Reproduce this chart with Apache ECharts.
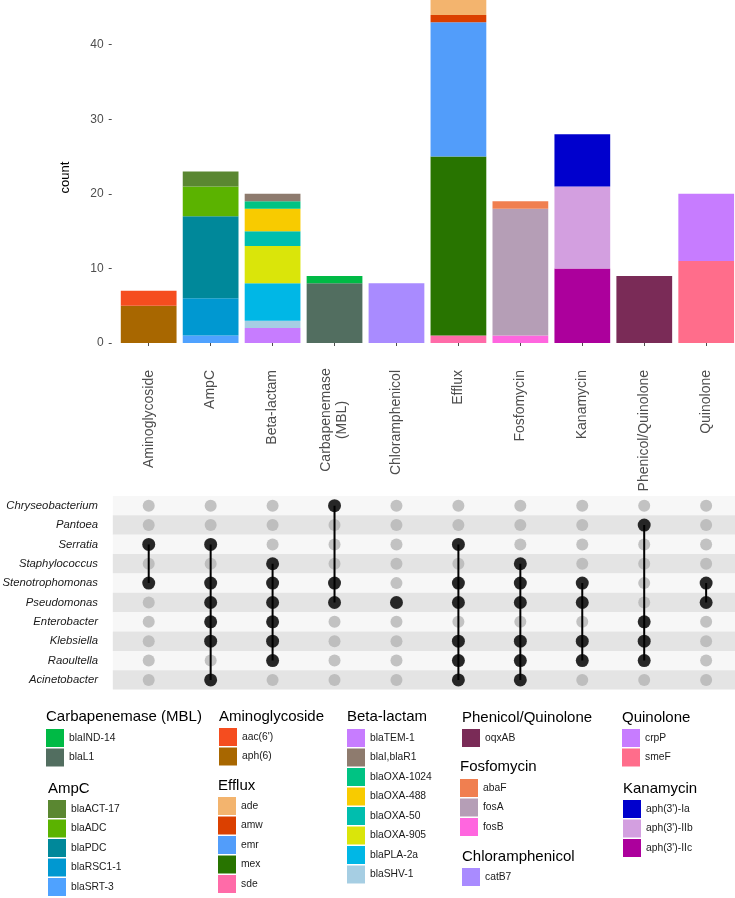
<!DOCTYPE html>
<html>
<head>
<meta charset="utf-8">
<script src="https://cdn.jsdelivr.net/npm/echarts@6/dist/echarts.min.js"></script>
<style>
  html, body { margin: 0; padding: 0; background: #fff; }
  #main { width: 735px; height: 898px; }
</style>
</head>
<body>
<div id="main"></div>
<script>
// resistance classes (x axis, shared by bars and matrix)
var classes = ['Aminoglycoside', 'AmpC', 'Beta-lactam', 'Carbapenemase (MBL)', 'Chloramphenicol',
    'Efflux', 'Fosfomycin', 'Kanamycin', 'Phenicol/Quinolone', 'Quinolone'];

// genes, listed bottom-to-top inside each class
var genes = ["aph(6)", "aac(6')",
    'blaSRT-3', 'blaRSC1-1', 'blaPDC', 'blaADC', 'blaACT-17',
    'blaTEM-1', 'blaSHV-1', 'blaPLA-2a', 'blaOXA-905', 'blaOXA-50', 'blaOXA-488', 'blaOXA-1024', 'blaI,blaR1',
    'blaL1', 'blaIND-14',
    'catB7',
    'sde', 'mex', 'emr', 'amw', 'ade',
    'fosB', 'fosA', 'abaF',
    "aph(3')-IIc", "aph(3')-IIb", "aph(3')-Ia",
    'oqxAB',
    'smeF', 'crpP'];
var geneClass = [0, 0,
    1, 1, 1, 1, 1,
    2, 2, 2, 2, 2, 2, 2, 2,
    3, 3,
    4,
    5, 5, 5, 5, 5,
    6, 6, 6,
    7, 7, 7,
    8,
    9, 9];
var geneCount = [5, 2,
    1, 5, 11, 4, 2,
    2, 1, 5, 5, 2, 3, 1, 1,
    8, 1,
    8,
    1, 24, 18, 1, 2,
    1, 17, 1,
    10, 11, 7,
    9,
    11, 9];

// matrix rows and which genera carry each class
var bacteria = ['Chryseobacterium', 'Pantoea', 'Serratia', 'Staphylococcus', 'Stenotrophomonas',
    'Pseudomonas', 'Enterobacter', 'Klebsiella', 'Raoultella', 'Acinetobacter'];
var members = [
    ['Serratia', 'Stenotrophomonas'],
    ['Serratia', 'Stenotrophomonas', 'Pseudomonas', 'Enterobacter', 'Klebsiella', 'Acinetobacter'],
    ['Staphylococcus', 'Stenotrophomonas', 'Pseudomonas', 'Enterobacter', 'Klebsiella', 'Raoultella'],
    ['Chryseobacterium', 'Stenotrophomonas', 'Pseudomonas'],
    ['Pseudomonas'],
    ['Serratia', 'Stenotrophomonas', 'Pseudomonas', 'Klebsiella', 'Raoultella', 'Acinetobacter'],
    ['Staphylococcus', 'Stenotrophomonas', 'Pseudomonas', 'Klebsiella', 'Raoultella', 'Acinetobacter'],
    ['Stenotrophomonas', 'Pseudomonas', 'Klebsiella', 'Raoultella'],
    ['Pantoea', 'Enterobacter', 'Klebsiella', 'Raoultella'],
    ['Stenotrophomonas', 'Pseudomonas']
];

var yTicks = [0, 10, 20, 30, 40];

var geneColor = {
    "aph(6)": '#A86700', "aac(6')": '#F54D1F',
    'blaSRT-3': '#4FA2FF', 'blaRSC1-1': '#0098D1', 'blaPDC': '#00889A', 'blaADC': '#5BB300', 'blaACT-17': '#5A8731',
    'blaTEM-1': '#C77CFF', 'blaSHV-1': '#A6CEE3', 'blaPLA-2a': '#00B7E6', 'blaOXA-905': '#DAE50A',
    'blaOXA-50': '#00BEAE', 'blaOXA-488': '#F8CB00', 'blaOXA-1024': '#00C383', 'blaI,blaR1': '#8E7B6E',
    'blaL1': '#526E60', 'blaIND-14': '#00BA45',
    'catB7': '#A98BFF',
    'sde': '#FF6BA8', 'mex': '#287400', 'emr': '#529DFA', 'amw': '#DB4000', 'ade': '#F3B46E',
    'fosB': '#FF66DF', 'fosA': '#B59EB6', 'abaF': '#F07F50',
    "aph(3')-IIc": '#AC009C', "aph(3')-IIb": '#D39FE0', "aph(3')-Ia": '#0000CD',
    'oqxAB': '#7A2B57',
    'smeF': '#FF6D8B', 'crpP': '#C77CFF'
};

var legendGroups = [
    {title: 'Carbapenemase (MBL)', items: ['blaIND-14', 'blaL1'], x: 46, y: 729, ty: 709},
    {title: 'AmpC', items: ['blaACT-17', 'blaADC', 'blaPDC', 'blaRSC1-1', 'blaSRT-3'], x: 48, y: 800, ty: 781},
    {title: 'Aminoglycoside', items: ["aac(6')", "aph(6)"], x: 219, y: 728, ty: 709},
    {title: 'Efflux', items: ['ade', 'amw', 'emr', 'mex', 'sde'], x: 218, y: 797, ty: 778},
    {title: 'Beta-lactam', items: ['blaTEM-1', 'blaI,blaR1', 'blaOXA-1024', 'blaOXA-488', 'blaOXA-50',
        'blaOXA-905', 'blaPLA-2a', 'blaSHV-1'], x: 347, y: 729, ty: 709},
    {title: 'Phenicol/Quinolone', items: ['oqxAB'], x: 462, y: 729, ty: 710},
    {title: 'Fosfomycin', items: ['abaF', 'fosA', 'fosB'], x: 460, y: 779, ty: 759},
    {title: 'Chloramphenicol', items: ['catB7'], x: 462, y: 868, ty: 849},
    {title: 'Quinolone', items: ['crpP', 'smeF'], x: 622, y: 729, ty: 710},
    {title: 'Kanamycin', items: ["aph(3')-Ia", "aph(3')-IIb", "aph(3')-IIc"], x: 623, y: 800, ty: 781}
];

var FONT = '"Liberation Sans", Arial, Helvetica, sans-serif';

var series = [];
genes.forEach(function (g, i) {
    series.push({
        name: g,
        type: 'bar',
        stack: 'total',
        xAxisIndex: 0,
        yAxisIndex: 0,
        barWidth: '90%',
        itemStyle: {color: geneColor[g]},
        data: classes.map(function (c, j) { return j === geneClass[i] ? geneCount[i] : '-'; })
    });
});

// matrix: grey background dots
var allDots = [];
classes.forEach(function (c, ci) {
    bacteria.forEach(function (b, bi) { allDots.push([ci, bi]); });
});
series.push({
    type: 'scatter', xAxisIndex: 1, yAxisIndex: 1, symbolSize: 12,
    itemStyle: {color: '#B4B4B4'}, silent: true, data: allDots
});

// matrix: connecting lines
var blackDots = [];
members.forEach(function (list, ci) {
    var idx = list.map(function (b) { return bacteria.indexOf(b); });
    idx.forEach(function (bi) { blackDots.push([ci, bi]); });
    if (idx.length > 1) {
        series.push({
            type: 'line', xAxisIndex: 1, yAxisIndex: 1, showSymbol: false, silent: true,
            lineStyle: {color: '#000', width: 2},
            data: [[ci, Math.min.apply(null, idx)], [ci, Math.max.apply(null, idx)]]
        });
    }
});
series.push({
    type: 'scatter', xAxisIndex: 1, yAxisIndex: 1, symbolSize: 13,
    itemStyle: {color: '#000'}, silent: true, data: blackDots
});

var legends = legendGroups.map(function (g) {
    return {
        data: g.items, left: g.x, top: g.y, orient: 'vertical', padding: 0,
        itemWidth: 18, itemHeight: 18, itemGap: 1.5, icon: 'rect', selectedMode: false,
        textStyle: {fontSize: 10.3, color: '#1a1a1a', fontFamily: FONT}
    };
});
var titles = legendGroups.map(function (g) {
    return {
        type: 'text', left: g.x, top: g.ty,
        style: {text: g.title, fontSize: 15, fill: '#000', fontFamily: FONT}
    };
});

var myChart = echarts.init(document.getElementById('main'));
var option = {
    animation: false,
    textStyle: {fontFamily: FONT},
    grid: [
        {left: 117.7, top: 0, width: 619.5, height: 343, outerBoundsMode: 'none'},
        {left: 112.8, top: 496, width: 624.3, height: 193.6, outerBoundsMode: 'none'}
    ],
    xAxis: [
        {
            type: 'category', gridIndex: 0, data: classes, offset: 16,
            axisLine: {show: false},
            axisTick: {show: true, length: 3, alignWithLabel: true, lineStyle: {color: '#4d4d4d'}},
            axisLabel: {
                rotate: 90, fontSize: 14, color: '#4d4d4d', margin: 11, interval: 0,
                formatter: function (v) {
                    return v === 'Carbapenemase (MBL)' ? '{c|Carbapenemase}\n{c|(MBL)}' : v;
                },
                rich: {c: {width: 100, align: 'center', fontSize: 14, color: '#4d4d4d', lineHeight: 16}}
            }
        },
        {type: 'value', gridIndex: 1, min: -0.58, max: 9.5, show: false}
    ],
    yAxis: [
        {
            type: 'value', gridIndex: 0, min: 0, max: 46, offset: 6,
            name: 'count', nameLocation: 'middle', nameGap: 40, nameRotate: 90,
            nameTextStyle: {fontSize: 13, color: '#000', fontWeight: 'normal', padding: [0, 12, 0, 0]},
            axisLine: {show: false},
            splitLine: {show: false},
            axisTick: {show: true, length: 3, customValues: yTicks, lineStyle: {color: '#4d4d4d'}},
            axisLabel: {fontSize: 12, color: '#4d4d4d', margin: 8, customValues: yTicks}
        },
        {
            type: 'category', gridIndex: 1, data: bacteria, inverse: true,
            axisLine: {show: false}, axisTick: {show: false},
            axisLabel: {fontSize: 11.3, fontStyle: 'italic', color: '#1a1a1a', margin: 14.8},
            splitLine: {show: false},
            splitArea: {show: true, areaStyle: {color: ['#F7F7F7', '#E4E4E4']}}
        }
    ],
    legend: legends,
    graphic: titles,
    series: series
};
myChart.setOption(option);
</script>
</body>
</html>
